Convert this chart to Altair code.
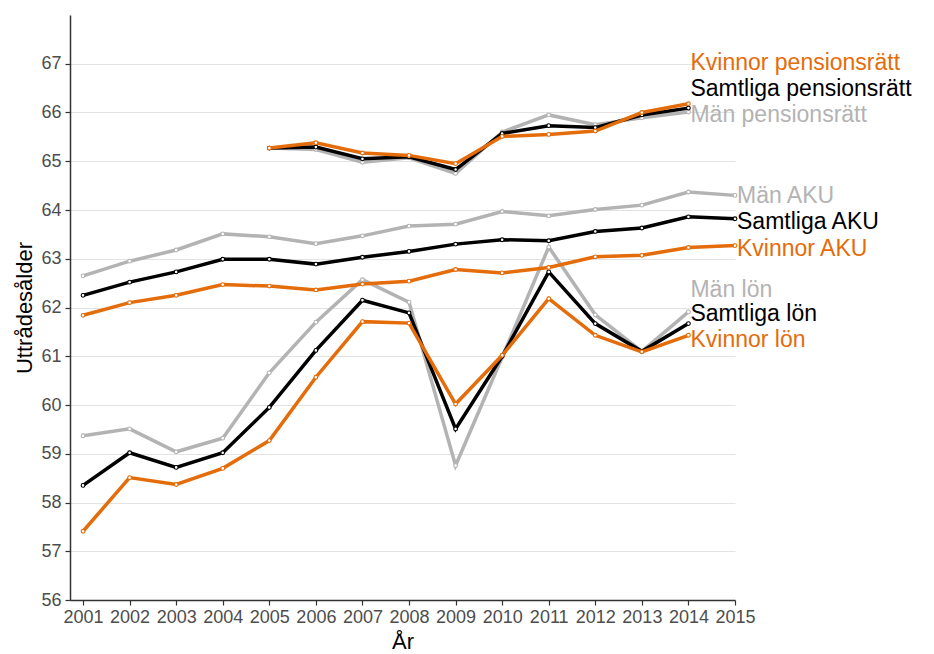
import altair as alt
import pandas as pd

years = list(range(2001, 2016))

man_lon = [59.37, 59.51, 59.04, 59.32, 60.66, 61.70, 62.57, 62.11, 58.76, 60.98, 63.24, 61.85, 61.10, 61.91, None]
sam_lon = [58.35, 59.02, 58.72, 59.02, 59.95, 61.12, 62.15, 61.89, 59.51, 61.00, 62.73, 61.67, 61.10, 61.67, None]
kv_lon = [57.41, 58.51, 58.37, 58.70, 59.27, 60.57, 61.71, 61.68, 60.02, 61.02, 62.18, 61.43, 61.09, 61.43, None]

man_aku = [62.65, 62.95, 63.18, 63.51, 63.45, 63.31, 63.47, 63.67, 63.71, 63.97, 63.88, 64.01, 64.10, 64.37, 64.30]
sam_aku = [62.25, 62.52, 62.73, 62.99, 62.99, 62.89, 63.03, 63.15, 63.30, 63.39, 63.37, 63.56, 63.63, 63.86, 63.82]
kv_aku = [61.84, 62.10, 62.25, 62.47, 62.44, 62.36, 62.48, 62.54, 62.78, 62.71, 62.82, 63.04, 63.07, 63.23, 63.27]

kv_pen = [None, None, None, None, 65.27, 65.38, 65.17, 65.12, 64.95, 65.51, 65.55, 65.62, 66.00, 66.18, None]
sam_pen = [None, None, None, None, 65.27, 65.29, 65.05, 65.09, 64.83, 65.57, 65.73, 65.69, 65.95, 66.09, None]
man_pen = [None, None, None, None, 65.27, 65.24, 64.98, 65.07, 64.75, 65.60, 65.95, 65.75, 65.89, 66.01, None]

series = {
    ("Män lön", "Män"): man_lon,
    ("Samtliga lön", "Samtliga"): sam_lon,
    ("Kvinnor lön", "Kvinnor"): kv_lon,
    ("Män AKU", "Män"): man_aku,
    ("Samtliga AKU", "Samtliga"): sam_aku,
    ("Kvinnor AKU", "Kvinnor"): kv_aku,
    ("Män pensionsrätt", "Män"): man_pen,
    ("Samtliga pensionsrätt", "Samtliga"): sam_pen,
    ("Kvinnor pensionsrätt", "Kvinnor"): kv_pen,
}

label_text = ["Kvinnor pensionsrätt", "Samtliga pensionsrätt", "Män pensionsrätt",
              "Män AKU", "Samtliga AKU", "Kvinnor AKU",
              "Män lön", "Samtliga lön", "Kvinnor lön"]
label_group = ["Kvinnor", "Samtliga", "Män", "Män", "Samtliga", "Kvinnor", "Män", "Samtliga", "Kvinnor"]
label_year = [2014, 2014, 2014, 2015, 2015, 2015, 2014, 2014, 2014]
label_value = [67.07, 66.55, 66.02, 64.34, 63.82, 63.27, 62.43, 61.93, 61.40]

groups = ["Kvinnor", "Samtliga", "Män"]
colors = ["#E46C0A", "#000000", "#B3B3B3"]

rows = []
for (name, grp), vals in series.items():
    for y, v in zip(years, vals):
        if v is not None:
            rows.append({"year": y, "value": v, "series": name, "group": grp})
df = pd.DataFrame(rows)
labels = pd.DataFrame({"text": label_text, "group": label_group, "year": label_year, "value": label_value})

xscale = alt.Scale(domain=[2000.72, 2015], nice=False, zero=False)
yscale = alt.Scale(domain=[56, 68], nice=False, zero=False)
cscale = alt.Scale(domain=groups, range=colors)

xaxis = alt.Axis(values=years, format="d", grid=False, title="År", labelFlush=False,
                 labelOverlap=False, tickSize=5, labelPadding=3, titlePadding=5)
yaxis = alt.Axis(values=list(range(56, 68)), grid=True, title="Uttrådesålder", labelFlush=False,
                 tickSize=5, labelPadding=4, titlePadding=4)

layers = []
for g in ["Män", "Samtliga", "Kvinnor"]:
    base = alt.Chart(df).transform_filter(alt.datum.group == g)
    line = base.mark_line(strokeWidth=3.5).encode(
        x=alt.X("year:Q", scale=xscale, axis=xaxis),
        y=alt.Y("value:Q", scale=yscale, axis=yaxis),
        color=alt.Color("group:N", scale=cscale, legend=None),
        detail="series:N",
    )
    pts = base.mark_point(fill="white", fillOpacity=1, size=14, strokeWidth=1.1, opacity=1).encode(
        x=alt.X("year:Q", scale=xscale),
        y=alt.Y("value:Q", scale=yscale),
        stroke=alt.Stroke("group:N", scale=cscale, legend=None),
    )
    layers += [line, pts]

text = alt.Chart(labels).mark_text(align="left", baseline="middle", dx=2, dy=3, fontSize=23,
                                   font="Liberation Sans").encode(
    x=alt.X("year:Q", scale=xscale),
    y=alt.Y("value:Q", scale=yscale),
    color=alt.Color("group:N", scale=cscale, legend=None),
    text="text:N",
)
layers.append(text)

chart = alt.layer(*layers).properties(
    width=665, height=585,
    autosize=alt.AutoSizeParams(type="none"),
    padding={"left": 62, "top": 7, "right": 190, "bottom": 52},
).configure_view(stroke=None).configure_axis(
    labelFont="Liberation Sans", titleFont="Liberation Sans",
    labelFontSize=18, titleFontSize=22, titleFontWeight="normal",
    labelColor="#4D4D4D", titleColor="#000000",
    domainColor="#333333", tickColor="#333333", domainWidth=1.5, tickWidth=1.2,
    gridColor="#E3E3E3", gridWidth=1,
)

chart.save("out.html", embed_options={"renderer": "svg", "actions": False})
